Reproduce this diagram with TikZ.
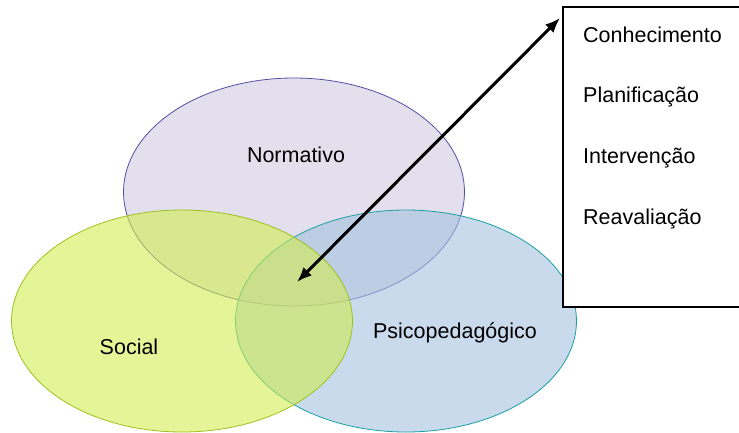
\documentclass[tikz,border=0pt]{standalone}
\usepackage{fontspec}
\setmainfont{Liberation Sans}
\usetikzlibrary{shapes.geometric, arrows.meta}

\definecolor{normfill}{RGB}{210,202,223}
\definecolor{normline}{RGB}{80,80,165}
\definecolor{socfill}{RGB}{210,236,80}
\definecolor{socline}{RGB}{155,195,30}
\definecolor{psifill}{RGB}{163,193,223}
\definecolor{psiline}{RGB}{25,160,165}

\tikzset{
  area/.style={ellipse, inner sep=0, line width=0.8pt, fill opacity=0.6,
    minimum width=341pt, minimum height=222pt},
  label/.style={inner sep=0, font=\fontsize{21.5}{25}\selectfont},
  step label/.style={label, anchor=west}
}

\begin{document}
\begin{tikzpicture}[x=1pt, y=-1pt]
  \useasboundingbox (0,0) rectangle (739,432);

  % the three fields
  \node[area, draw=normline, fill=normfill, minimum height=228pt] (norm) at (294,192) {};
  \node[area, draw=psiline, fill=psifill] (psi) at (406,321) {};
  \node[area, draw=socline, fill=socfill] (soc) at (182,321) {};

  \node[label] (normtext) at (296,155) {Normativo};
  \node[label] (soctext) at (129,347) {Social};
  \node[label] (psitext) at (455,333) {Psicopedagógico};

  % process box
  \node[rectangle, draw=black, line width=1.5pt,
    anchor=north west,
    minimum width=190pt,
    minimum height=300pt,
    fill=white] (steps) at (562,6) {};

  \node[step label] (know) at (583,35) {Conhecimento};
  \node[step label] (plan) at (583,97) {Planificação};
  \node[step label] (act) at (583,158) {Intervenção};
  \node[step label] (review) at (583,219) {Reavaliação};

  \coordinate (core) at (297,282);
  \draw[{Latex[length=15pt, width=12pt]}-{Latex[length=15pt, width=12pt]}, line width=3pt]
    (core) -- ([xshift=-2pt, yshift=-12pt]steps.north west);
\end{tikzpicture}
\end{document}
